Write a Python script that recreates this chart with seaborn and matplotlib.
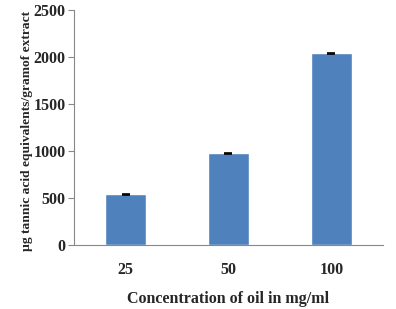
import numpy as np
import pandas as pd
import matplotlib
matplotlib.use('Agg')
import matplotlib.pyplot as plt
import seaborn as sns

# Values
concentrations = ['25', '50', '100']
tannin = [540, 975, 2040]
errors = [5, 5, 5]

df = pd.DataFrame({'Concentration': concentrations, 'Tannin': tannin})

sns.set_style('white')
plt.rcParams['font.family'] = ['Liberation Serif', 'DejaVu Serif']
plt.rcParams['font.weight'] = 'bold'

fig = plt.figure(figsize=(3.96, 3.09), dpi=100)
ax = fig.add_axes([0.187, 0.207, 0.78, 0.761])

sns.barplot(data=df, x='Concentration', y='Tannin', color='#4f81bd',
            width=0.4, saturation=1, errorbar=None, ax=ax)
ax.errorbar(range(len(tannin)), tannin, yerr=errors, fmt='none',
            ecolor='black', elinewidth=0.8, capsize=3, capthick=1.2)

ax.set_ylim(0, 2500)
ax.set_yticks(np.arange(0, 2501, 500))
ax.set_xlim(-0.5, 2.5)

for s in ['top', 'right']:
    ax.spines[s].set_visible(False)
for s in ['left', 'bottom']:
    ax.spines[s].set_color('#888888')
    ax.spines[s].set_linewidth(0.8)

ax.tick_params(axis='y', left=True, length=4, width=0.8, color='#888888', labelsize=11.5, pad=2)
ax.tick_params(axis='x', bottom=False, labelsize=11.5, pad=9)
for lbl in ax.get_xticklabels() + ax.get_yticklabels():
    lbl.set_fontweight('bold')

ax.set_xlabel('Concentration of oil in mg/ml', fontsize=11.5, fontweight='bold', labelpad=9)
ax.set_ylabel('µg tannic acid equivalents/gramof extract', fontsize=9.7, fontweight='bold')
ax.yaxis.set_label_coords(-0.133, 0.485)

fig.savefig('out.png', dpi=100)
